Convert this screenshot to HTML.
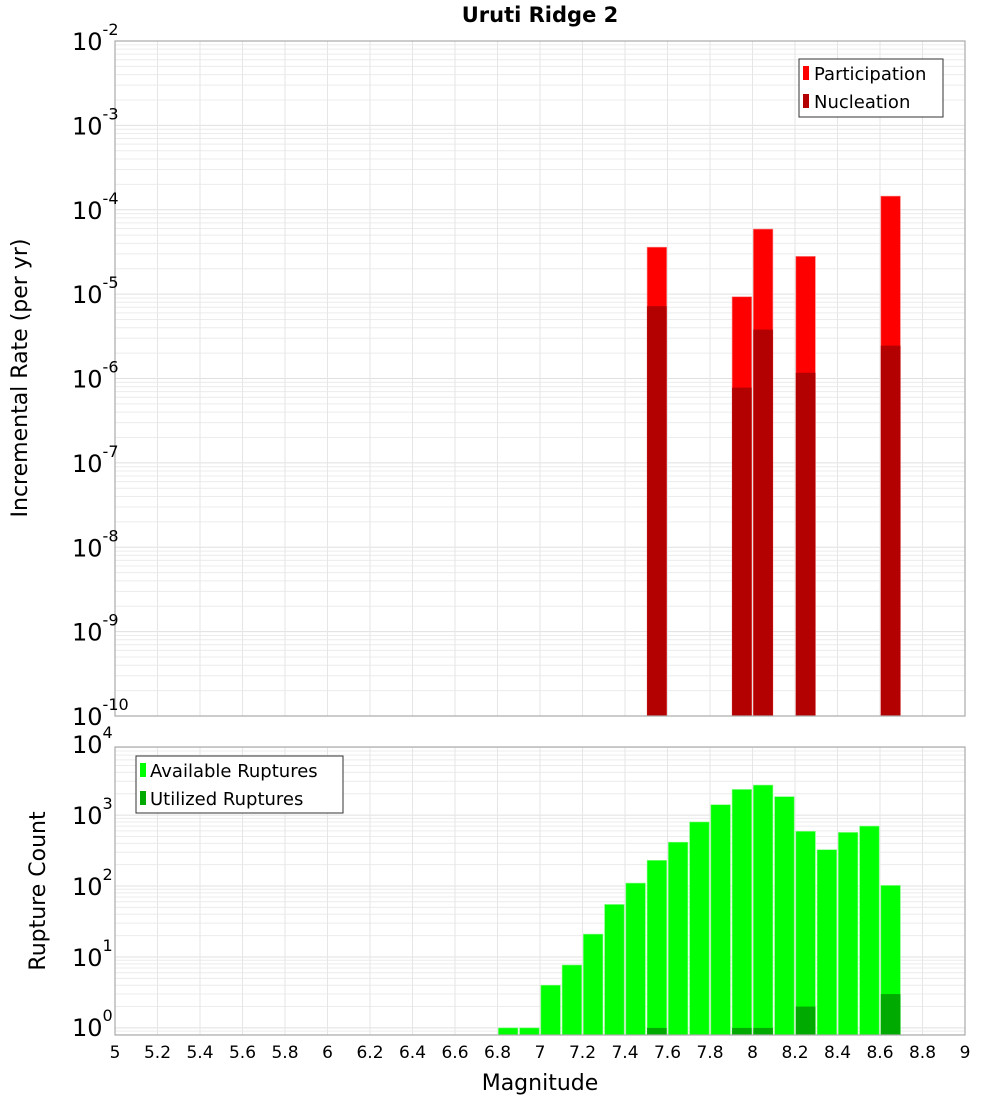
<!DOCTYPE html>
<html><head><meta charset="utf-8"><style>
body{margin:0;background:#fff;}
svg text{font-family:"DejaVu Sans","Liberation Sans",sans-serif;fill:#000;}
</style></head><body>
<svg id="chart" width="1000" height="1100" xmlns="http://www.w3.org/2000/svg">
<text x="540" y="22" text-anchor="middle" font-size="21" font-weight="bold">Uruti Ridge 2</text>
<g id="top"></g>
<g id="bot"></g>
<text transform="translate(27,378) rotate(-90)" text-anchor="middle" font-size="22">Incremental Rate (per yr)</text>
<text transform="translate(45,891) rotate(-90)" text-anchor="middle" font-size="22">Rupture Count</text>
<text x="540" y="1090" text-anchor="middle" font-size="22">Magnitude</text>
<g>
<rect x="799" y="59" width="144" height="58" fill="#fff" stroke="#333"/>
<rect x="803" y="66" width="6" height="14" fill="#ff0000"/>
<text x="814" y="80" font-size="18">Participation</text>
<rect x="803" y="94" width="6" height="14" fill="#b30000"/>
<text x="814" y="108" font-size="18">Nucleation</text>
</g>
<g>
<rect x="136" y="756" width="207" height="57" fill="#fff" stroke="#333"/>
<rect x="140" y="763" width="6" height="14" fill="#00ff00"/>
<text x="150" y="777" font-size="18">Available Ruptures</text>
<rect x="140" y="791" width="6" height="14" fill="#00aa00"/>
<text x="150" y="805" font-size="18">Utilized Ruptures</text>
</g>
</svg>
<script>
const rateMags=[7.55,7.95,8.05,8.25,8.65];
const participation=[3.6e-5,9.3e-6,5.9e-5,2.8e-5,1.45e-4];
const nucleation=[7.2e-6,7.8e-7,3.8e-6,1.17e-6,2.45e-6];
const countMags=[6.85,6.95,7.05,7.15,7.25,7.35,7.45,7.55,7.65,7.75,7.85,7.95,8.05,8.15,8.25,8.35,8.45,8.55,8.65];
const available=[1,1,4,7.7,21,55,110,230,415,800,1400,2300,2650,1820,590,325,570,700,102];
const utilizedMags=[7.55,7.95,8.05,8.25,8.65];
const utilized=[1,1,1,2,3];
const xTicks=[5,5.2,5.4,5.6,5.8,6,6.2,6.4,6.6,6.8,7,7.2,7.4,7.6,7.8,8,8.2,8.4,8.6,8.8,9];
const topExps=[-2,-3,-4,-5,-6,-7,-8,-9,-10];
const botExps=[4,3,2,1,0];

const NS="http://www.w3.org/2000/svg";
const X0=115,X1=965,XMIN=5,XMAX=9;
const x=m=>X0+(m-XMIN)/(XMAX-XMIN)*(X1-X0);
const T0=41,T1=716,TMAX=-2,TMIN=-10;
const yT=v=>T0+(TMAX-Math.log10(v))/(TMAX-TMIN)*(T1-T0);
const B0=747,B1=1035,BMAX=3.96,BMIN=-0.1;
const yB=v=>B0+(BMAX-Math.log10(v))/(BMAX-BMIN)*(B1-B0);
function mk(p,tag,a){const e=document.createElementNS(NS,tag);for(const k in a)e.setAttribute(k,a[k]);p.appendChild(e);return e;}
const BW=0.092;

function frame(g,top,bot,yf,lmin,lmax){
  mk(g,'rect',{x:X0,y:top,width:X1-X0,height:bot-top,fill:'#fff'});
  for(let d=Math.floor(lmin);d<=Math.ceil(lmax);d++){
    for(let k=1;k<10;k++){const v=k*Math.pow(10,d);const lv=Math.log10(v);if(lv<lmin||lv>lmax)continue;
      const yy=yf(v);const l=mk(g,'line',{x1:X0,x2:X1,y1:yy,y2:yy,stroke:k==1?'#e0e0e0':'#ececec','stroke-width':1});
      }
  }
  xTicks.forEach(t=>{const l=mk(g,'line',{x1:x(t),x2:x(t),y1:top,y2:bot,stroke:'#e6e6e6'});
    });
}
function border(g,top,bot){const r=mk(g,'rect',{x:X0,y:top,width:X1-X0,height:bot-top,fill:'none',stroke:'#aaa','stroke-width':1.2});
  }

const gt=document.getElementById('top');
frame(gt,T0,T1,yT,TMIN,TMAX);
rateMags.forEach((m,i)=>{
  const b=mk(gt,'rect',{x:x(m-BW/2),y:yT(participation[i]),width:x(m+BW/2)-x(m-BW/2),height:T1-yT(participation[i]),fill:'#ff0000',stroke:'#ff8080','stroke-width':0.6});
  
  const n=mk(gt,'rect',{x:x(m-BW/2),y:yT(nucleation[i]),width:x(m+BW/2)-x(m-BW/2),height:T1-yT(nucleation[i]),fill:'#b30000'});
  
});
border(gt,T0,T1);
topExps.forEach(e=>{const yy=yT(Math.pow(10,e));
  const t=mk(gt,'text',{x:111,y:yy+9,'text-anchor':'end','font-size':24});
  
  t.textContent='10';const s=mk(t,'tspan',{dy:-15,'font-size':16});s.textContent=String(e);
  t.setAttribute('text-anchor','start');t.setAttribute('x',72);
});

const gb=document.getElementById('bot');
frame(gb,B0,B1,yB,BMIN,BMAX);
countMags.forEach((m,i)=>{
  const b=mk(gb,'rect',{x:x(m-BW/2),y:yB(available[i]),width:x(m+BW/2)-x(m-BW/2),height:B1-yB(available[i]),fill:'#00ff00',stroke:'#80ff80','stroke-width':0.6});
  
});
utilizedMags.forEach((m,i)=>{
  const b=mk(gb,'rect',{x:x(m-BW/2),y:yB(utilized[i]),width:x(m+BW/2)-x(m-BW/2),height:B1-yB(utilized[i]),fill:'#00aa00'});
  
});
border(gb,B0,B1);
botExps.forEach(e=>{const yy=yB(Math.pow(10,e));
  const t=mk(gb,'text',{x:72,y:Math.min(yy+9,1036),'font-size':24});
  
  t.textContent='10';const s=mk(t,'tspan',{dy:-15,'font-size':16});s.textContent=String(e);
});
xTicks.forEach(v=>{const t=mk(gb,'text',{x:x(v),y:1058,'text-anchor':'middle','font-size':17});
  
  t.textContent=String(v);});
</script>
</body></html>
